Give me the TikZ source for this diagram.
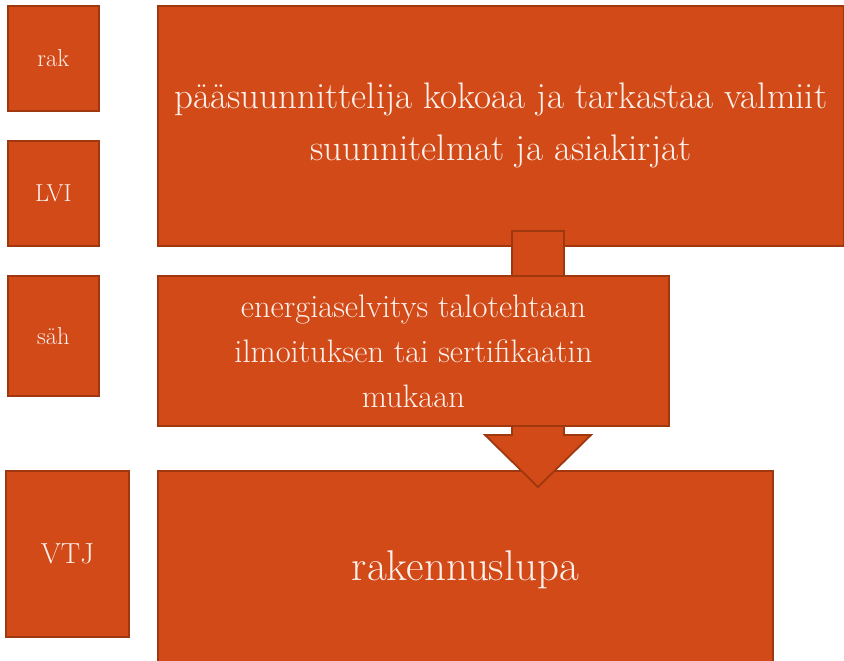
\documentclass[tikz,border=0pt]{standalone}
\usepackage{tikz}
\usepackage{xcolor}
\definecolor{boxfill}{HTML}{D24A18}
\definecolor{boxline}{HTML}{A0380F}
\definecolor{boxtext}{HTML}{FCF1EC}

\begin{document}
\begin{tikzpicture}[x=1pt,y=-1pt,
    block/.style={rectangle, draw=boxline, fill=boxfill, line width=1.8pt,
        text=boxtext, anchor=north west, inner sep=0pt, align=center},
    blockarrow/.style={draw=boxline, fill=boxfill, line width=1.8pt}]

            % Define the page size
            \def\pagew{844}
            \def\pageh{661}
            \clip (0,0) rectangle (\pagew,\pageh);

            % big boxes, the arrow lies over them
            \node[block, minimum width=686pt, minimum height=240pt,
                font=\fontsize{37}{52}\selectfont] (plan) at (157,5)
                {pääsuunnittelija kokoaa ja tarkastaa valmiit\\suunnitelmat ja asiakirjat};
            \node[block, minimum width=615pt, minimum height=198pt,
                font=\fontsize{43}{48}\selectfont] (lupa) at (157,470) {rakennuslupa};

            % Define the block arrow
            \def\shaftw{26}
            \def\headw{53}
            \def\headl{52}
            \coordinate (arrtop) at (538,231);
            \coordinate (arrtip) at (538,487);
            \draw[blockarrow] ([xshift=-\shaftw pt]arrtop) -- ([xshift=\shaftw pt]arrtop)
                -- ([xshift=\shaftw pt, yshift=\headl pt]arrtip)
                -- ([xshift=\headw pt, yshift=\headl pt]arrtip) -- (arrtip)
                -- ([xshift=-\headw pt, yshift=\headl pt]arrtip)
                -- ([xshift=-\shaftw pt, yshift=\headl pt]arrtip) -- cycle;

            % middle box covers the shaft
            \node[block, minimum width=511pt, minimum height=150pt,
                font=\fontsize{32.5}{45}\selectfont] (energia) at (157,275)
                {energiaselvitys talotehtaan\\ilmoituksen tai sertifikaatin\\mukaan};

            % small boxes on the left
            \node[block, minimum width=91pt, minimum height=105pt,
                font=\fontsize{24.5}{28}\selectfont] (rak) at (7,5) {rak};
            \node[block, minimum width=91pt, minimum height=105pt,
                font=\fontsize{24.5}{28}\selectfont] (lvi) at (7,140) {LVI};
            \node[block, minimum width=91pt, minimum height=120pt,
                font=\fontsize{24.5}{28}\selectfont] (sah) at (7,275) {säh};
            \node[block, minimum width=123pt, minimum height=166pt,
                font=\fontsize{29}{34}\selectfont] (vtj) at (5,470) {VTJ};

        \end{tikzpicture}
\end{document}
